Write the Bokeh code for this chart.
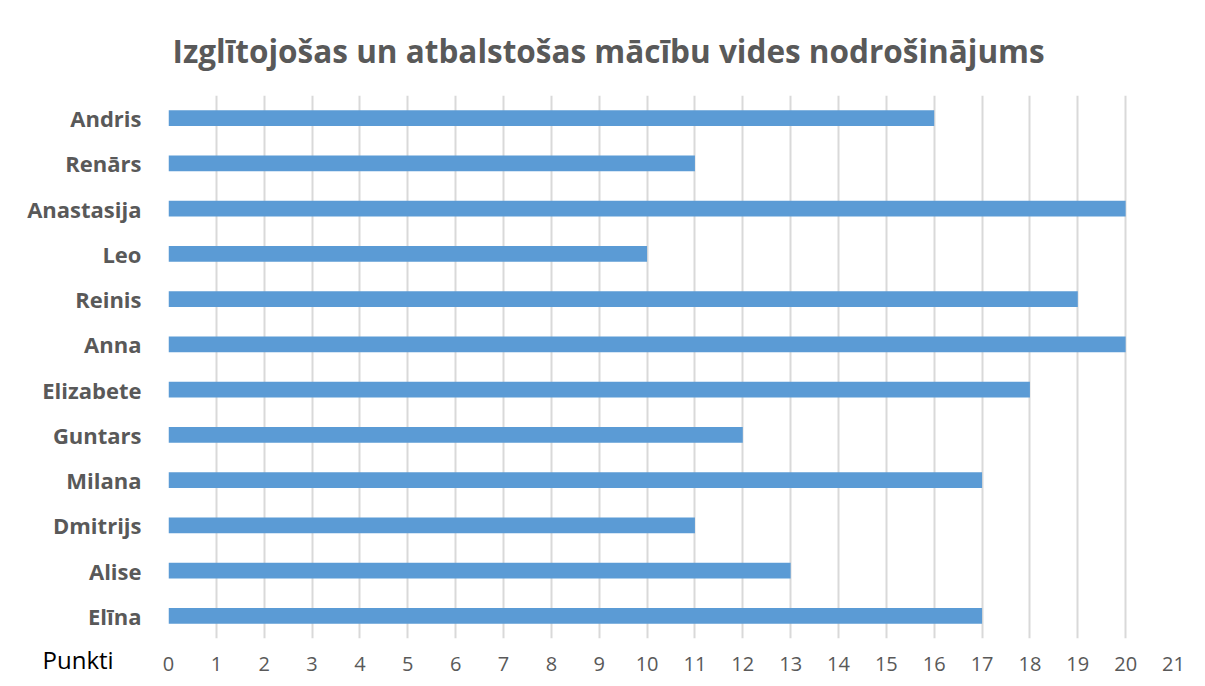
from bokeh.plotting import figure
from bokeh.models import Range1d, FactorRange, FixedTicker, Title, ColumnDataSource
from bokeh.embed import file_html
from bokeh.resources import INLINE

title_text = "Izglītojošas un atbalstošas mācību vides nodrošinājums"
names = ["Andris", "Renārs", "Anastasija", "Leo", "Reinis", "Anna",
         "Elizabete", "Guntars", "Milana", "Dmitrijs", "Alise", "Elīna"]
points = [16, 11, 20, 10, 19, 20, 18, 12, 17, 11, 13, 17]
x_ticks = list(range(0, 22))
x_label = "Punkti"

W, H = 1197, 678
p = figure(width=W, height=H, output_backend="svg", toolbar_location=None,
           y_range=FactorRange(factors=names[::-1], range_padding=0),
           x_range=Range1d(0, 21),
           min_border_left=168, min_border_right=24,
           min_border_top=95, min_border_bottom=40)
p.outline_line_color = None
p.background_fill_color = "white"
p.border_fill_color = "white"

p.title.text = title_text
p.title.align = "left"
p.title.offset = 4
p.title.vertical_align = "bottom"
p.title.standoff = 48
p.title.text_font = "Open Sans"
p.title.text_font_style = "bold"
p.title.text_font_size = "31.5px"
p.title.text_color = "#595959"

p.add_layout(Title(text=x_label, align="left", offset=-126, vertical_align="top",
                   standoff=-62, text_font="Open Sans", text_font_style="normal",
                   text_font_size="24px", text_color="#000000"), "below")

src = ColumnDataSource(dict(name=names, pts=points))
p.hbar(y="name", right="pts", left=0, height=0.35, source=src,
       fill_color="#5B9BD5", line_color=None)

p.xaxis.ticker = FixedTicker(ticks=x_ticks)
p.xaxis.axis_line_color = None
p.xaxis.major_tick_line_color = None
p.xaxis.minor_tick_line_color = None
p.xaxis.major_label_standoff = 12
p.xaxis.major_label_text_font = "Open Sans"
p.xaxis.major_label_text_font_size = "20px"
p.xaxis.major_label_text_color = "#595959"

p.yaxis.axis_line_color = None
p.yaxis.major_tick_line_color = None
p.yaxis.major_label_standoff = 21
p.yaxis.major_label_text_font = "Open Sans"
p.yaxis.major_label_text_font_style = "bold"
p.yaxis.major_label_text_font_size = "22px"
p.yaxis.major_label_text_color = "#595959"

p.xgrid.grid_line_color = "#D9D9D9"
p.xgrid.grid_line_width = 2
p.ygrid.grid_line_color = None

open("out.html", "w").write(file_html(p, INLINE))
